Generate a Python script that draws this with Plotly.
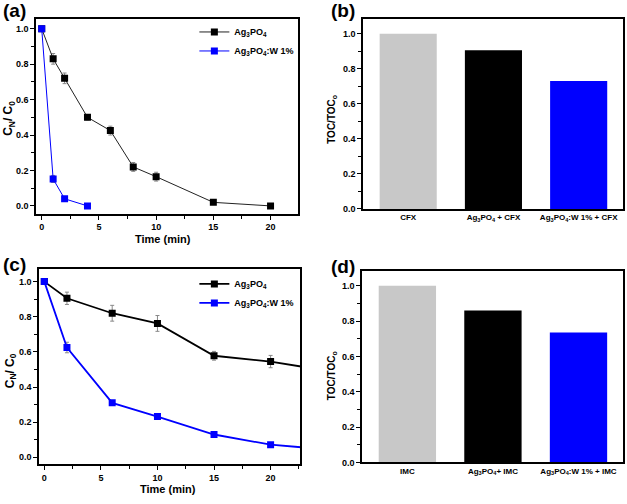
import plotly.graph_objects as go

# Panel (a): CFX degradation
t_a_black = [0, 1, 2, 4, 6, 8, 10, 15, 20]
c_a_black = [1.0, 0.83, 0.72, 0.50, 0.425, 0.22, 0.165, 0.02, 0.0]
e_a_black = [0.0, 0.03, 0.03, 0.015, 0.025, 0.025, 0.025, 0.01, 0.0]
t_a_blue = [0, 1, 2, 4]
c_a_blue = [1.0, 0.152, 0.04, 0.0]
e_a_blue = [0.0, 0.02, 0.01, 0.0]

# Panel (c): IMC degradation
t_c_black = [0, 2, 6, 10, 15, 20, 25]
c_c_black = [1.0, 0.905, 0.82, 0.762, 0.578, 0.545, 0.493]
e_c_black = [0.0, 0.035, 0.045, 0.045, 0.025, 0.035, 0.0]
t_c_blue = [0, 2, 6, 10, 15, 20, 25]
c_c_blue = [1.0, 0.625, 0.31, 0.232, 0.13, 0.072, 0.045]
e_c_blue = [0.0, 0.03, 0.01, 0.015, 0.01, 0.01, 0.0]

# Panels (b), (d): TOC removal
cat_b = ["CFX", "Ag<sub>3</sub>PO<sub>4</sub> + CFX", "Ag<sub>3</sub>PO<sub>4</sub>:W 1% + CFX"]
toc_b = [1.0, 0.905, 0.73]
cat_d = ["IMC", "Ag<sub>3</sub>PO<sub>4</sub>+ IMC", "Ag<sub>3</sub>PO<sub>4</sub>:W 1% + IMC"]
toc_d = [1.0, 0.86, 0.735]
bar_colors = ["#c8c8c8", "#000000", "#0000ff"]

name_black = "Ag<sub>3</sub>PO<sub>4</sub>"
name_blue = "Ag<sub>3</sub>PO<sub>4</sub>:W 1%"

FONT = "Liberation Sans"
BLACK = "#000000"
BLUE = "#0000ff"

fig = go.Figure()

def err(vals):
    return dict(type="data", array=vals, color="#888888", thickness=1, width=2)

fig.add_trace(go.Scatter(x=t_a_black, y=c_a_black, error_y=err(e_a_black), mode="lines+markers",
                         name=name_black, line=dict(color="#222222", width=1),
                         marker=dict(symbol="square", size=7, color=BLACK),
                         xaxis="x", yaxis="y", legend="legend"))
fig.add_trace(go.Scatter(x=t_a_blue, y=c_a_blue, error_y=err(e_a_blue), mode="lines+markers",
                         name=name_blue, line=dict(color=BLUE, width=1),
                         marker=dict(symbol="square", size=7, color=BLUE),
                         xaxis="x", yaxis="y", legend="legend"))

fig.add_trace(go.Bar(x=[0, 1, 2], y=toc_b, marker=dict(color=bar_colors, line=dict(width=0)),
                     width=0.67, showlegend=False, xaxis="x2", yaxis="y2"))

fig.add_trace(go.Scatter(x=t_c_black, y=c_c_black, error_y=err(e_c_black), mode="lines+markers",
                         name=name_black, line=dict(color=BLACK, width=1.8),
                         marker=dict(symbol="square", size=7, color=BLACK),
                         xaxis="x3", yaxis="y3", legend="legend2"))
fig.add_trace(go.Scatter(x=t_c_blue, y=c_c_blue, error_y=err(e_c_blue), mode="lines+markers",
                         name=name_blue, line=dict(color=BLUE, width=1.8),
                         marker=dict(symbol="square", size=7, color=BLUE),
                         xaxis="x3", yaxis="y3", legend="legend2"))

fig.add_trace(go.Bar(x=[0, 1, 2], y=toc_d, marker=dict(color=bar_colors, line=dict(width=0)),
                     width=0.67, showlegend=False, xaxis="x4", yaxis="y4"))

tickfont = dict(family=FONT, size=9, color=BLACK, weight="bold")

def ax(domain, rng, anchor, dtick=None, minor_dtick=None, tickvals=None, ticktext=None,
       ticks="outside", fmt=None, font=None):
    d = dict(domain=domain, range=rng, anchor=anchor, showline=True, linecolor=BLACK, linewidth=1.5,
             mirror=True, ticks=ticks, ticklen=4, tickwidth=1.2, tickcolor=BLACK, showgrid=False,
             zeroline=False, tickfont=font or tickfont)
    if dtick is not None:
        d["dtick"] = dtick
        d["tick0"] = 0
    if fmt:
        d["tickformat"] = fmt
    if minor_dtick is not None:
        d["minor"] = dict(dtick=minor_dtick, tick0=0, ticks="outside", ticklen=3, tickcolor=BLACK,
                          tickwidth=1, showgrid=False)
    if tickvals is not None:
        d["tickmode"] = "array"
        d["tickvals"] = tickvals
        d["ticktext"] = ticktext
    return d

barfont = dict(family=FONT, size=8, color=BLACK, weight="bold")
legfont = dict(family=FONT, size=9, color=BLACK, weight="bold")

fig.update_layout(
    width=627, height=504, margin=dict(l=0, r=0, t=0, b=0),
    paper_bgcolor="white", plot_bgcolor="white",
    font=dict(family=FONT, color=BLACK),
    xaxis=ax([0.0574, 0.4753], [-0.5, 22.4], "y", dtick=5, minor_dtick=2.5),
    yaxis=ax([0.5714, 0.9623], [-0.045, 1.056], "x", dtick=0.2, minor_dtick=0.1, fmt=".1f"),
    xaxis2=ax([0.579, 0.9936], [-0.53, 2.52], "y2", tickvals=[0, 1, 2], ticktext=cat_b, ticks="", font=barfont),
    yaxis2=ax([0.5813, 0.9623], [0, 1.085], "x2", dtick=0.2, minor_dtick=0.1, fmt=".1f"),
    xaxis3=ax([0.0622, 0.4785], [-0.47, 22.6], "y3", dtick=5, minor_dtick=2.5),
    yaxis3=ax([0.0694, 0.4603], [-0.04, 1.07], "x3", dtick=0.2, minor_dtick=0.1, fmt=".1f"),
    xaxis4=ax([0.5774, 0.9936], [-0.53, 2.52], "y4", tickvals=[0, 1, 2], ticktext=cat_d, ticks="", font=barfont),
    yaxis4=ax([0.0734, 0.4563], [0, 1.082], "x4", dtick=0.2, minor_dtick=0.1, fmt=".1f"),
    legend=dict(x=0.31, y=0.965, xanchor="left", yanchor="top", bgcolor="rgba(0,0,0,0)",
                font=legfont, itemwidth=30, tracegroupgap=0),
    legend2=dict(x=0.31, y=0.46, xanchor="left", yanchor="top", bgcolor="rgba(0,0,0,0)",
                 font=legfont, itemwidth=30, tracegroupgap=0),
)

ann_font_big = dict(family=FONT, size=19, color=BLACK, weight="bold")
ann_font_title = dict(family=FONT, size=11, color=BLACK, weight="bold")
anns = [
    dict(text="(a)", x=1 / 627, y=1 - 11 / 504),
    dict(text="(b)", x=329 / 627, y=1 - 11 / 504),
    dict(text="(c)", x=1 / 627, y=1 - 267 / 504),
    dict(text="(d)", x=329 / 627, y=1 - 269 / 504),
]
annotations = []
for a in anns:
    annotations.append(dict(text=a["text"], x=a["x"], y=a["y"], xref="paper", yref="paper",
                            xanchor="left", yanchor="middle", showarrow=False, font=ann_font_big))
ytfont = dict(family=FONT, size=12, color=BLACK, weight="bold")
tocfont = dict(family=FONT, size=10, color=BLACK, weight="bold")
annotations += [
    dict(text="Time (min)", x=163 / 627, y=1 - 241 / 504, xref="paper", yref="paper",
         showarrow=False, font=ann_font_title, xanchor="center", yanchor="middle"),
    dict(text="Time (min)", x=168 / 627, y=1 - 494 / 504, xref="paper", yref="paper",
         showarrow=False, font=ann_font_title, xanchor="center", yanchor="middle"),
    dict(text="C<sub>N</sub>/ C<sub>0</sub>", x=9 / 627, y=1 - 120 / 504, xref="paper", yref="paper",
         showarrow=False, textangle=-90, font=ytfont, xanchor="center", yanchor="middle"),
    dict(text="C<sub>N</sub>/ C<sub>0</sub>", x=11 / 627, y=1 - 375 / 504, xref="paper", yref="paper",
         showarrow=False, textangle=-90, font=ytfont, xanchor="center", yanchor="middle"),
    dict(text="TOC/TOC<sub>o</sub>", x=332 / 627, y=1 - 120 / 504, xref="paper", yref="paper",
         showarrow=False, textangle=-90, font=tocfont, xanchor="center", yanchor="middle"),
    dict(text="TOC/TOC<sub>o</sub>", x=332 / 627, y=1 - 379 / 504, xref="paper", yref="paper",
         showarrow=False, textangle=-90, font=tocfont, xanchor="center", yanchor="middle"),
]
fig.update_layout(annotations=annotations)

fig.write_html("out.html", config={"displayModeBar": False},
               post_script="document.body.style.margin='0px';document.body.style.overflow='hidden';")
